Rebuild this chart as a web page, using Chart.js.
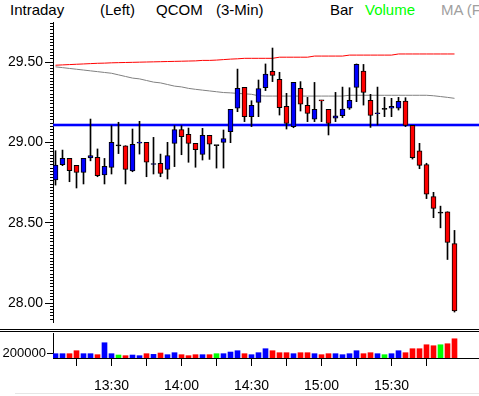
<!DOCTYPE html>
<html><head><meta charset="utf-8">
<script src="https://cdn.jsdelivr.net/npm/chart.js@4"></script>
<style>
html,body{margin:0;padding:0;background:#fff;width:479px;height:396px;overflow:hidden;position:relative}
.h{position:absolute;top:1px;font:15px 'Liberation Sans',sans-serif;line-height:17px;white-space:nowrap;color:#000}
#c1{position:absolute;left:0;top:0}
#c2{position:absolute;left:0;top:326px}
.rule{position:absolute;left:0;width:479px;height:1px;background:#000}
</style></head><body>
<div class="h" style="left:10px">Intraday</div>
<div class="h" style="left:100px">(Left)</div>
<div class="h" style="left:156px">QCOM</div>
<div class="h" style="left:216px">(3-Min)</div>
<div class="h" style="left:330px">Bar</div>
<div class="h" style="left:365px;color:#00ff00">Volume</div>
<div class="h" style="left:441px;color:#a0a0a0">MA (F</div>
<canvas id="c1" width="479" height="326"></canvas>
<canvas id="c2" width="479" height="70"></canvas>
<div class="rule" style="top:329px"></div>
<div class="rule" style="top:331px"></div>
<div style="position:absolute;left:15px;top:393px;width:464px;height:1px;background:#e6e6e6"></div>
<script>
const times = ['13:06','13:09','13:12','13:15','13:18','13:21','13:24','13:27','13:30','13:33',
  '13:36','13:39','13:42','13:45','13:48','13:51','13:54','13:57','14:00','14:03',
  '14:06','14:09','14:12','14:15','14:18','14:21','14:24','14:27','14:30','14:33',
  '14:36','14:39','14:42','14:45','14:48','14:51','14:54','14:57','15:00','15:03',
  '15:06','15:09','15:12','15:15','15:18','15:21','15:24','15:27','15:30','15:33',
  '15:36','15:39','15:42','15:45','15:48','15:51','15:54','15:57'];
const opens = [28.766,28.861,28.900,28.857,28.813,28.903,28.907,28.797,28.844,28.978,
  28.979,28.822,28.995,29.000,28.862,28.869,28.832,28.994,29.079,29.050,
  28.994,28.925,29.044,28.980,29.000,29.066,29.212,29.342,29.160,29.249,
  29.340,29.442,29.392,29.224,29.098,29.336,29.230,29.145,29.262,29.205,
  29.150,29.166,29.212,29.342,29.444,29.261,29.178,29.205,29.212,29.212,
  29.257,29.106,28.948,28.861,28.662,28.560,28.568,28.370];
const highs = [28.948,28.952,28.900,28.857,28.900,29.145,28.959,28.900,29.104,29.125,
  28.979,29.083,29.131,29.000,29.031,28.927,29.000,29.104,29.104,29.089,
  28.994,29.087,29.044,28.980,29.077,29.205,29.456,29.342,29.259,29.388,
  29.488,29.587,29.436,29.305,29.373,29.378,29.280,29.373,29.262,29.205,
  29.311,29.344,29.340,29.488,29.485,29.299,29.344,29.280,29.274,29.280,
  29.278,29.106,28.994,28.870,28.689,28.603,28.568,28.452];
const lows = [28.734,28.855,28.755,28.716,28.741,28.885,28.786,28.741,28.803,28.930,
  28.741,28.817,28.927,28.786,28.803,28.786,28.772,28.849,28.923,28.876,
  28.845,28.890,28.894,28.840,28.840,28.998,29.191,29.129,29.098,29.160,
  29.322,29.378,29.170,29.083,29.091,29.195,29.129,29.129,29.129,29.046,
  29.129,29.154,29.205,29.253,29.232,29.093,29.108,29.160,29.160,29.201,
  29.098,28.896,28.836,28.650,28.531,28.468,28.271,27.944];
const closes = [28.859,28.900,28.824,28.813,28.900,28.917,28.793,28.851,29.000,28.978,
  28.832,28.988,29.000,28.876,28.868,28.807,28.917,29.079,29.035,28.994,
  28.955,29.044,28.988,28.980,29.023,29.205,29.336,29.160,29.230,29.334,
  29.425,29.417,29.216,29.118,29.373,29.237,29.180,29.205,29.258,29.118,
  29.165,29.207,29.261,29.485,29.311,29.168,29.182,29.205,29.224,29.255,
  29.106,28.905,28.857,28.678,28.589,28.560,28.377,27.951];
const volumes = [200000,200000,200000,338000,200000,200000,154000,708000,200000,138000,
  108000,138000,108000,200000,169000,231000,154000,246000,154000,108000,
  154000,154000,154000,200000,200000,277000,338000,200000,154000,246000,
  431000,338000,246000,246000,200000,246000,246000,200000,154000,200000,
  200000,154000,200000,338000,200000,246000,200000,154000,200000,338000,
  246000,431000,431000,615000,569000,615000,662000,892000];
const maSlow = [29.480,29.482,29.484,29.486,29.488,29.490,29.492,29.493,29.495,29.496,
  29.497,29.498,29.499,29.500,29.501,29.502,29.503,29.504,29.505,29.506,
  29.507,29.510,29.510,29.512,29.515,29.518,29.520,29.523,29.523,29.523,
  29.523,29.523,29.530,29.530,29.530,29.530,29.530,29.537,29.537,29.537,
  29.537,29.537,29.543,29.543,29.543,29.543,29.543,29.543,29.543,29.550,
  29.550,29.550,29.550,29.550,29.550,29.550,29.550,29.550];
const maFast = [29.470,29.465,29.460,29.455,29.450,29.445,29.440,29.435,29.430,29.420,
  29.410,29.400,29.395,29.385,29.375,29.370,29.360,29.350,29.345,29.336,
  29.330,29.325,29.320,29.315,29.310,29.308,29.305,29.302,29.299,29.290,
  29.288,29.288,29.288,29.288,29.288,29.288,29.288,29.288,29.288,29.288,
  29.288,29.288,29.293,29.293,29.293,29.293,29.293,29.293,29.293,29.293,
  29.293,29.293,29.293,29.293,29.290,29.285,29.280,29.274];
const prevClose = 29.11;
const priceTicks = [28.00, 28.50, 29.00, 29.50];
const volumeTicks = [200000];

const FONT = {family:"'Liberation Sans',sans-serif", size:14};
const VFONT = {family:"'Liberation Sans',sans-serif", size:13};
const idx = times.map((t,i)=>i);
const xMin = -2.5/7, xMax = xMin + 426/7;
const yMin = 27.882, yMax = 29.749;
const dirOf = i => closes[i] > opens[i] ? 1 : (closes[i] < opens[i] ? -1 : 0);
const volColors = idx.map(i => ({'1':'#0000ff','-1':'#ff0000','0':'#00ff00'})[dirOf(i)]);
const bodyColors = idx.map(i => ({'1':'#0000ff','-1':'#ff0000','0':'#000000'})[dirOf(i)]);
const noPad = s => { s.paddingTop = 0; s.paddingBottom = 0; };

const refLine = {
  id:'refLine',
  beforeDatasetsDraw(chart){
    const {ctx, chartArea:a, scales:{y}} = chart;
    const py = Math.round(y.getPixelForValue(prevClose));
    ctx.save();
    ctx.fillStyle = 'rgba(90,90,255,0.45)';
    ctx.fillRect(a.left, py-2, a.right-a.left, 4);
    ctx.fillStyle = '#0000ff';
    ctx.fillRect(a.left, py-1, a.right-a.left, 2);
    ctx.restore();
  }
};

new Chart(document.getElementById('c1'), {
  type:'bar',
  data:{datasets:[
    {label:'body', order:1, data: idx.map(i=>({x:i, y:[opens[i], closes[i]]})),
      backgroundColor: bodyColors, borderColor:'#000', borderWidth:1, borderSkipped:false,
      barThickness:5, minBarLength:1, grouped:false},
    {label:'wick', order:2, data: idx.map(i=>({x:i, y:[lows[i], highs[i]]})),
      backgroundColor:'#000', borderWidth:0, barThickness:1, grouped:false},
    {type:'line', label:'MA slow', order:3, data: idx.map(i=>({x:i, y:maSlow[i]})),
      borderColor:'#ff0000', borderWidth:1, pointRadius:0, tension:0, fill:false},
    {type:'line', label:'MA fast', order:3, data: idx.map(i=>({x:i, y:maFast[i]})),
      borderColor:'#808080', borderWidth:1, pointRadius:0, tension:0, fill:false}
  ]},
  options:{
    responsive:false, animation:false, devicePixelRatio:1,
    layout:{padding:{top:22,bottom:4,left:0,right:0}},
    plugins:{legend:{display:false}, tooltip:{enabled:false}},
    scales:{
      x:{type:'linear', display:false, min:xMin, max:xMax, offset:false, grid:{offset:false}},
      y:{position:'left', weight:1, min:yMin, max:yMax,
        afterBuildTicks:s=>{ s.ticks = priceTicks.map(v=>({value:v})); },
        afterFit:s=>{ s.width = 53; noPad(s); },
        grid:{drawOnChartArea:false, tickLength:8, color:'#000', tickColor:'#000'},
        border:{color:'#000', width:1},
        ticks:{color:'#000', font:FONT, padding:2, autoSkip:false, callback:v=>Number(v).toFixed(2)}},
      yMinor:{position:'left', weight:0, min:yMin, max:yMax,
        afterBuildTicks:s=>{ const t=[]; for(let k=Math.ceil(yMin*50);k<=Math.floor(yMax*50);k++) t.push({value:k/50}); s.ticks=t; },
        afterFit:s=>{ s.width = 0; noPad(s); },
        grid:{drawOnChartArea:false, tickLength:3, color:'#000', tickColor:'#000'},
        border:{color:'#000', width:1},
        ticks:{display:false, autoSkip:false}}
    }
  },
  plugins:[refLine]
});

const tickIdx = idx.filter(i => Number(times[i].split(':')[1]) % 15 === 0);
new Chart(document.getElementById('c2'), {
  type:'bar',
  data:{datasets:[
    {label:'Volume', data: idx.map(i=>({x:i, y:volumes[i]})), backgroundColor: volColors,
      borderWidth:0, barThickness:5, yAxisID:'yv'}
  ]},
  options:{
    responsive:false, animation:false, devicePixelRatio:1,
    layout:{padding:{top:7,bottom:0,left:0,right:0}},
    plugins:{legend:{display:false}, tooltip:{enabled:false}},
    scales:{
      x:{type:'linear', min:xMin, max:xMax, offset:false,
        afterBuildTicks:s=>{ s.ticks = tickIdx.map(v=>({value:v})); },
        afterFit:s=>{ s.height = 38; s.paddingLeft = 0; s.paddingRight = 0; },
        grid:{drawOnChartArea:false, offset:false, tickLength:8, color:'#000', tickColor:'#000'},
        border:{color:'#000', width:1},
        ticks:{autoSkip:false, maxRotation:0, color:'#000', font:FONT, padding:12,
          callback:v=>{ const t = times[v]; return (t && Number(t.split(':')[1]) % 30 === 0) ? t : ''; }}},
      yv:{position:'left', min:0, max:1160000,
        afterBuildTicks:s=>{ s.ticks = volumeTicks.map(v=>({value:v})); },
        afterFit:s=>{ s.width = 53; noPad(s); },
        grid:{drawOnChartArea:false, tickLength:6, color:'#000', tickColor:'#000'},
        border:{color:'#000', width:1},
        ticks:{color:'#000', font:VFONT, padding:1, autoSkip:false, callback:v=>String(v)}}
    }
  }
});
</script>
</body></html>
